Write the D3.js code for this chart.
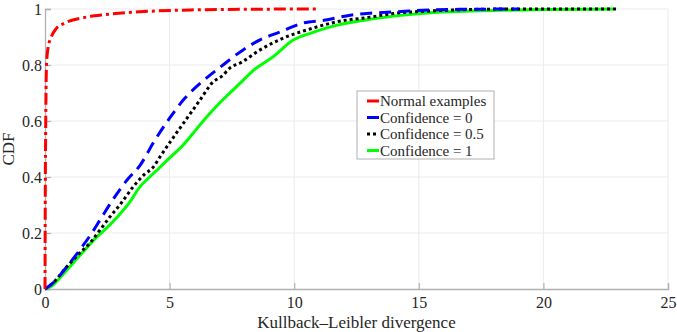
<!DOCTYPE html>
<html>
<head>
<meta charset="utf-8">
<script src="https://cdn.jsdelivr.net/npm/d3@7"></script>
<style>
body { margin: 0; background: #fff; }
</style>
</head>
<body>
<svg id="chart" width="677" height="332"></svg>
<script>
// CDF curves, [x, cdf]
const normalPts = [[0,0],[0.01,0.3],[0.03,0.6],[0.06,0.8],[0.12,0.86],[0.25,0.9],[0.45,0.93],[0.8,0.95],[1.6,0.97],[2.4,0.98],[3.8,0.99],[6,0.997],[8,0.999],[11,1]];
const conf0Pts = [[0,0],[0.3,0.02],[0.88,0.08],[1.4,0.14],[1.88,0.2],[2.3,0.26],[2.73,0.32],[3.3,0.39],[3.8,0.44],[4.4,0.53],[5.0,0.61],[5.6,0.68],[6.3,0.74],[7.0,0.79],[7.95,0.854],[8.63,0.89],[9.44,0.918],[10.36,0.95],[11.2,0.96],[12.25,0.978],[13.05,0.985],[14.1,0.99],[15.5,0.997],[17,0.999],[19,1]];
const conf05Pts = [[0,0],[0.3,0.02],[0.88,0.08],[1.3,0.12],[1.8,0.164],[2.2,0.21],[2.6,0.257],[3.0,0.3],[3.53,0.364],[4.0,0.41],[4.35,0.436],[4.6,0.47],[5.14,0.54],[5.7,0.61],[6.22,0.675],[6.75,0.74],[7.1,0.76],[7.43,0.79],[7.83,0.807],[8.63,0.854],[9.56,0.896],[10.5,0.925],[11.7,0.954],[13.05,0.971],[14.1,0.985],[15.5,0.993],[17,0.998],[19,1],[23,1]];
const conf1Pts = [[0,0],[0.2,0.007],[0.5,0.03],[0.88,0.068],[1.5,0.13],[2.08,0.186],[2.5,0.22],[2.9,0.257],[3.4,0.31],[3.8,0.364],[4.2,0.4],[4.5,0.425],[5.02,0.47],[5.5,0.51],[5.95,0.557],[6.35,0.6],[6.75,0.64],[7.3,0.69],[7.83,0.735],[8.35,0.78],[9.16,0.83],[9.96,0.889],[10.7,0.915],[11.45,0.936],[12.8,0.96],[14.5,0.979],[15.9,0.989],[18,0.995],[20,0.998],[22.8,1]];

const xTicks = [0, 5, 10, 15, 20, 25];
const yTicks = [0, 0.2, 0.4, 0.6, 0.8, 1];
const seriesNames = ["Normal examples", "Confidence = 0", "Confidence = 0.5", "Confidence = 1"];

const FONT = '"Liberation Serif"';
const svg = d3.select("#chart");
const mLeft = 45, mRight = 668, mTop = 9, mBottom = 289;

const x = d3.scaleLinear().domain([0, 25]).range([mLeft, mRight]);
const y = d3.scaleLinear().domain([0, 1]).range([mBottom, mTop]);

// grid
svg.append("g").selectAll("line").data(xTicks.slice(1)).join("line")
    .attr("x1", d => x(d)).attr("x2", d => x(d))
    .attr("y1", mTop).attr("y2", mBottom)
    .attr("stroke", "#ebebeb").attr("stroke-width", 1);
svg.append("g").selectAll("line").data(yTicks.slice(1)).join("line")
    .attr("x1", mLeft).attr("x2", mRight)
    .attr("y1", d => y(d)).attr("y2", d => y(d))
    .attr("stroke", "#ebebeb").attr("stroke-width", 1);

// axes
const xAxis = svg.append("g").attr("transform", "translate(0," + mBottom + ")")
    .call(d3.axisBottom(x).tickValues(xTicks).tickSize(-6).tickPadding(8).tickFormat(d3.format("d")));
const yAxis = svg.append("g").attr("transform", "translate(" + mLeft + ",0)")
    .call(d3.axisLeft(y).tickValues(yTicks).tickSize(-6).tickPadding(3).tickFormat(d => d));
[xAxis, yAxis].forEach(function(a) {
    a.select(".domain").attr("stroke", "#b0b0b0").attr("stroke-width", 1.3);
    a.selectAll(".tick line").attr("stroke", "#b0b0b0").attr("stroke-width", 1.2);
    a.selectAll(".tick text").style("font-family", FONT).style("font-size", "16px").attr("fill", "#262626");
});

// axis labels
svg.append("text").attr("x", (mLeft + mRight) / 2).attr("y", 328)
    .attr("text-anchor", "middle").style("font-family", FONT).style("font-size", "17px")
    .attr("fill", "#262626")
    .text("Kullback–Leibler divergence");
svg.append("text").attr("transform", "translate(14," + ((mTop + mBottom) / 2) + ") rotate(-90)")
    .attr("text-anchor", "middle").style("font-family", FONT).style("font-size", "17px")
    .attr("fill", "#262626")
    .text("CDF");

// curves
const line = d3.line().x(d => x(d[0])).y(d => y(d[1])).curve(d3.curveMonotoneX);
const styles = [
    { color: "#ff0000", dash: "12,4,3,4" },
    { color: "#0000ff", dash: "12,7" },
    { color: "#000000", dash: "3,3" },
    { color: "#00ff00", dash: null }
];
const allData = [conf1Pts, conf05Pts, conf0Pts, normalPts];
const order = [3, 2, 1, 0];
allData.forEach(function(pts, i) {
    const s = styles[order[i]];
    svg.append("path").datum(pts)
        .attr("d", line)
        .attr("fill", "none")
        .attr("stroke", s.color)
        .attr("stroke-width", 3)
        .attr("stroke-dasharray", s.dash);
});

// legend
const lg = svg.append("g");
lg.append("rect").attr("x", 357).attr("y", 91).attr("width", 137).attr("height", 68)
    .attr("fill", "#fff").attr("stroke", "#b0b0b0").attr("stroke-width", 1);
seriesNames.forEach(function(name, i) {
    const yy = 101 + i * 16.5;
    lg.append("line").attr("x1", 367).attr("x2", 379).attr("y1", yy).attr("y2", yy)
        .attr("stroke", styles[i].color).attr("stroke-width", 3)
        .attr("stroke-dasharray", i == 2 ? "3,3" : null);
    lg.append("text").attr("x", 380).attr("y", yy + 5)
        .style("font-family", FONT).style("font-size", "15px")
        .attr("fill", "#262626").text(name);
});
</script>
</body>
</html>
